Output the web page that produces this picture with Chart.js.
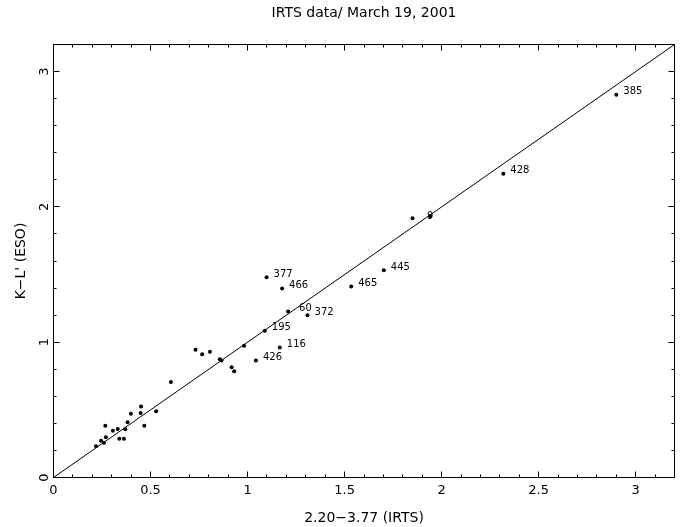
<!DOCTYPE html>
<html>
<head>
<meta charset="utf-8">
<script src="https://cdn.jsdelivr.net/npm/chart.js@4.4.1/dist/chart.umd.min.js"></script>
<style>
  html, body { margin: 0; padding: 0; background: #fff; }
  #wrap { width: 686px; height: 527px; }
</style>
</head>
<body>
<div id="wrap"><canvas id="chart" width="686" height="527"></canvas></div>
<script>
// IRTS colour vs ESO K-L'
const xValues = [
    0.219, 0.245, 0.260, 0.267, 0.270, 0.306, 0.331, 0.339, 0.363, 0.370,
    0.382, 0.399, 0.449, 0.451, 0.468, 0.529, 0.605,
    0.732, 0.766, 0.806, 0.857, 0.866, 0.918, 0.931, 0.982, 1.850,
    1.043, 1.089, 1.098, 1.166, 1.178, 1.209, 1.309, 1.534, 1.702, 1.940, 2.318, 2.900
];
const yValues = [
    0.231, 0.272, 0.257, 0.383, 0.297, 0.346, 0.359, 0.287, 0.287, 0.356,
    0.408, 0.472, 0.477, 0.524, 0.383, 0.489, 0.706,
    0.945, 0.911, 0.930, 0.874, 0.864, 0.815, 0.785, 0.974, 1.916,
    0.864, 1.085, 1.480, 0.960, 1.396, 1.226, 1.199, 1.412, 1.532, 1.930, 2.244, 2.828
];
const pointLabels = [
    '', '', '', '', '', '', '', '', '', '',
    '', '', '', '', '', '', '',
    '', '', '', '', '', '', '', '', '',
    '426', '195', '377', '116', '466', '60', '372', '465', '445', '9', '428', '385'
];
const lineX = [0, 3.2];
const lineY = [0, 3.2];
const xTickLabels = ['0', '0.5', '1', '1.5', '2', '2.5', '3'];
const yTickLabels = ['0', '1', '2', '3'];

const FONT = 'DejaVu Sans';

function tickText(labels) {
    return (value) => {
        const hit = labels.find(l => Math.abs(parseFloat(l) - value) < 1e-6);
        return hit === undefined ? '' : hit;
    };
}

// box round the plot with inward ticks on all four sides
const frameTicks = {
    id: 'frameTicks',
    afterDraw(chart) {
        const {ctx, chartArea: a, scales} = chart;
        const snap = v => Math.round(v - 0.5) + 0.5;
        ctx.save();
        ctx.strokeStyle = '#000';
        ctx.lineWidth = 1;
        ctx.beginPath();
        ctx.rect(a.left, a.top, a.right - a.left, a.bottom - a.top);
        scales.x.ticks.forEach(t => {
            const len = tickText(xTickLabels)(t.value) ? 6 : 3;
            const px = snap(scales.x.getPixelForValue(t.value));
            ctx.moveTo(px, a.bottom); ctx.lineTo(px, a.bottom - len);
            ctx.moveTo(px, a.top); ctx.lineTo(px, a.top + len);
        });
        scales.y.ticks.forEach(t => {
            const len = tickText(yTickLabels)(t.value) ? 6 : 3;
            const py = snap(scales.y.getPixelForValue(t.value));
            ctx.moveTo(a.left, py); ctx.lineTo(a.left + len, py);
            ctx.moveTo(a.right, py); ctx.lineTo(a.right - len, py);
        });
        ctx.stroke();
        ctx.restore();
    }
};

// star numbers next to their dots
const starNames = {
    id: 'starNames',
    afterDatasetsDraw(chart, args, opts) {
        const {ctx} = chart;
        const meta = chart.getDatasetMeta(0);
        ctx.save();
        ctx.fillStyle = '#000';
        ctx.font = '10px ' + FONT;
        ctx.textAlign = 'left';
        ctx.textBaseline = 'middle';
        meta.data.forEach((pt, i) => {
            const name = pointLabels[i];
            if (!name) return;
            const shift = opts.shift[name] || [0, 0];
            ctx.fillText(name, pt.x + 7 + shift[0], pt.y - 3 + shift[1]);
        });
        ctx.restore();
    }
};

new Chart(document.getElementById('chart'), {
    type: 'scatter',
    data: {
        datasets: [{
            data: xValues.map((x, i) => ({x: x, y: yValues[i]})),
            pointRadius: 2,
            pointBackgroundColor: '#000',
            pointBorderWidth: 0,
            showLine: false
        }, {
            data: lineX.map((x, i) => ({x: x, y: lineY[i]})),
            showLine: true,
            pointRadius: 0,
            borderColor: '#000',
            borderWidth: 1
        }]
    },
    options: {
        responsive: false,
        animation: false,
        devicePixelRatio: 1,
        layout: { padding: { left: 0, right: 11.5, top: 0, bottom: 0 } },
        plugins: {
            legend: { display: false },
            tooltip: { enabled: false },
            title: {
                display: true,
                fullSize: false,
                text: 'IRTS data/ March 19, 2001',
                color: '#000',
                font: { family: FONT, size: 14, weight: 'normal' },
                padding: { top: 5, bottom: 22.7 }
            },
            starNames: { shift: { '9': [-10, 3], '60': [4, 0] } }
        },
        scales: {
            x: {
                type: 'linear',
                min: 0,
                max: 3.2,
                grid: { display: false, drawTicks: false },
                border: { display: false },
                ticks: {
                    stepSize: 0.1,
                    autoSkip: false,
                    maxRotation: 0,
                    padding: 5,
                    color: '#000',
                    font: { family: FONT, size: 13 },
                    callback: tickText(xTickLabels)
                },
                title: {
                    display: true,
                    text: '2.20\u22123.77 (IRTS)',
                    color: '#000',
                    font: { family: FONT, size: 14 },
                    padding: { top: 0, bottom: 0 }
                },
                afterFit: s => { s.height = 49.5; }
            },
            y: {
                type: 'linear',
                min: 0,
                max: 3.2,
                grid: { display: false, drawTicks: false },
                border: { display: false },
                ticks: {
                    stepSize: 0.2,
                    autoSkip: false,
                    minRotation: 90,
                    maxRotation: 90,
                    crossAlign: 'center',
                    padding: 5,
                    color: '#000',
                    font: { family: FONT, size: 13 },
                    callback: tickText(yTickLabels)
                },
                title: {
                    display: true,
                    text: "K\u2212L' (ESO)",
                    color: '#000',
                    font: { family: FONT, size: 14 },
                    padding: { top: 13, bottom: 0 }
                },
                afterFit: s => { s.width = 53.5; }
            }
        }
    },
    plugins: [frameTicks, starNames]
});
</script>
</body>
</html>
